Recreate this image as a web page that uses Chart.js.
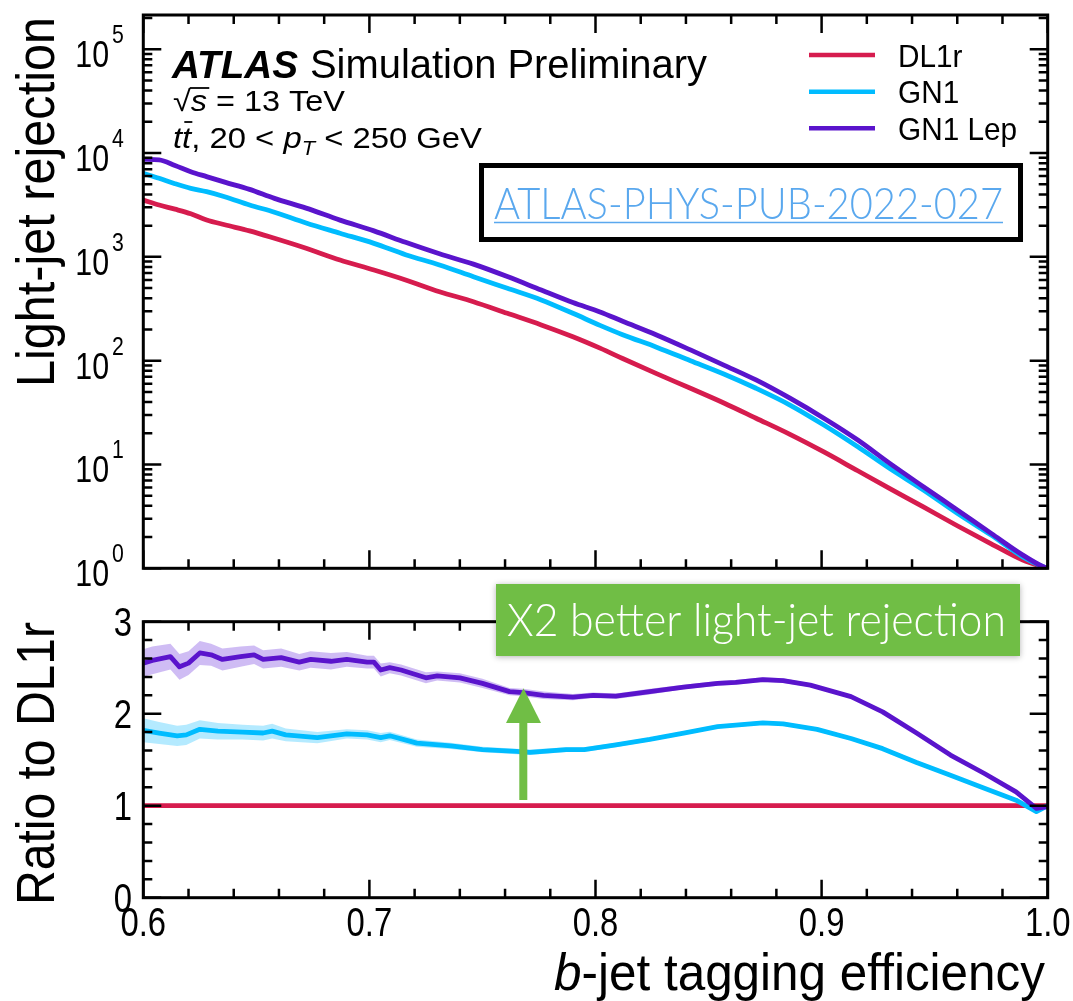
<!DOCTYPE html>
<html>
<head>
<meta charset="utf-8">
<script src="https://cdn.jsdelivr.net/npm/chart.js@4.4.0/dist/chart.umd.min.js"></script>
<style>
  html, body { margin: 0; padding: 0; background: #fff; }
  #wrap { position: relative; width: 1073px; height: 1001px; overflow: hidden; }
  canvas { position: absolute; left: 0; }
  #rejection { top: 0; }
  #ratio { top: 570px; }
</style>
</head>
<body>
<div id="wrap">
  <canvas id="rejection" width="1073" height="600"></canvas>
  <canvas id="ratio" width="1073" height="431"></canvas>
</div>
<script>
// light-jet rejection vs b-jet efficiency
const effTop = [0.600, 0.607, 0.614, 0.621, 0.628, 0.636, 0.647, 0.658, 0.672, 0.687, 0.702, 0.716, 0.731, 0.746, 0.761, 0.776, 0.790, 0.802, 0.812, 0.827, 0.842, 0.857, 0.871, 0.886, 0.901, 0.916, 0.930, 0.945, 0.960, 0.975, 0.989, 0.998, 1.000];
const rejDL1r = [3530, 3160, 2880, 2600, 2270, 2040, 1780, 1510, 1210, 933, 748, 600, 462, 370, 286, 221, 170, 132, 105, 75.0, 54.2, 38.9, 27.9, 19.5, 13.2, 8.7, 5.9, 3.9, 2.57, 1.72, 1.2, 1.03, 1];
const rejGN1 = [6380, 5710, 5070, 4570, 4250, 3800, 3160, 2690, 2120, 1690, 1350, 1050, 836, 644, 498, 385, 286, 219, 178, 135, 100, 74.1, 54.2, 37.4, 24.0, 14.8, 9.18, 5.68, 3.39, 2.09, 1.29, 1.035, 1];
const rejGN1Lep = [8710, 8590, 7590, 6610, 5930, 5250, 4470, 3660, 2950, 2260, 1780, 1380, 1070, 851, 646, 479, 363, 295, 240, 177, 127, 90.2, 65.2, 43.5, 27.9, 17.2, 10.3, 6.11, 3.65, 2.17, 1.34, 1.035, 1];

// ratio to DL1r with statistical uncertainty
const effRatioLep = [0.600, 0.604, 0.612, 0.616, 0.620, 0.625, 0.630, 0.635, 0.643, 0.649, 0.653, 0.661, 0.669, 0.674, 0.683, 0.690, 0.699, 0.702, 0.705, 0.709, 0.714, 0.725, 0.730, 0.740, 0.750, 0.762, 0.768, 0.777, 0.790, 0.799, 0.809, 0.824, 0.839, 0.854, 0.862, 0.874, 0.883, 0.895, 0.913, 0.927, 0.942, 0.957, 0.972, 0.986, 0.995, 1.000];
const ratioLep = [2.55, 2.58, 2.62, 2.51, 2.55, 2.66, 2.64, 2.59, 2.62, 2.64, 2.59, 2.61, 2.56, 2.59, 2.57, 2.59, 2.56, 2.56, 2.475, 2.50, 2.475, 2.39, 2.41, 2.39, 2.33, 2.24, 2.23, 2.20, 2.18, 2.20, 2.19, 2.24, 2.29, 2.33, 2.34, 2.37, 2.36, 2.31, 2.185, 2.02, 1.79, 1.55, 1.35, 1.15, 0.97, 0.99];
const errLep = [0.15, 0.15, 0.14, 0.14, 0.13, 0.13, 0.12, 0.12, 0.11, 0.10, 0.10, 0.10, 0.09, 0.09, 0.09, 0.08, 0.07, 0.07, 0.07, 0.06, 0.06, 0.06, 0.05, 0.05, 0.05, 0.04, 0.04, 0.04, 0.035, 0.03, 0.03, 0.03, 0.025, 0.025, 0.025, 0.025, 0.025, 0.02, 0.02, 0.02, 0.02, 0.02, 0.02, 0.02, 0.02, 0.02];

const effRatioGN1 = [0.600, 0.607, 0.615, 0.619, 0.625, 0.633, 0.644, 0.653, 0.657, 0.663, 0.677, 0.690, 0.699, 0.705, 0.709, 0.721, 0.736, 0.750, 0.765, 0.771, 0.787, 0.795, 0.809, 0.824, 0.839, 0.854, 0.874, 0.883, 0.898, 0.913, 0.927, 0.942, 0.957, 0.972, 0.986, 0.995, 1.000];
const ratioGN1 = [1.82, 1.79, 1.76, 1.77, 1.83, 1.81, 1.80, 1.79, 1.81, 1.77, 1.74, 1.78, 1.77, 1.74, 1.76, 1.68, 1.65, 1.61, 1.59, 1.58, 1.61, 1.61, 1.66, 1.72, 1.79, 1.86, 1.90, 1.89, 1.83, 1.73, 1.62, 1.47, 1.33, 1.19, 1.06, 0.935, 1.0];
const errGN1 = [0.13, 0.12, 0.11, 0.11, 0.10, 0.09, 0.08, 0.08, 0.08, 0.07, 0.06, 0.05, 0.05, 0.05, 0.045, 0.04, 0.035, 0.03, 0.03, 0.03, 0.025, 0.025, 0.025, 0.02, 0.02, 0.02, 0.02, 0.02, 0.02, 0.02, 0.02, 0.02, 0.02, 0.02, 0.02, 0.02, 0.02];

const effRatioDL1r = [0.6, 1.0];
const ratioDL1r = [1, 1];
const errDL1r = [0.02, 0.02];

const seriesNames = ['DL1r', 'GN1', 'GN1 Lep'];
const xTicks = [0.6, 0.7, 0.8, 0.9, 1.0];
const xTickLabels = ['0.6', '0.7', '0.8', '0.9', '1.0'];
const rejDecades = [0, 1, 2, 3, 4, 5];
const ratioTicks = [0, 1, 2, 3];

const lineColors = ['#d61c4e', '#00bcff', '#5a14cc'];
const bandColors = ['rgba(214, 28, 78, 0.3)', 'rgba(40, 195, 255, 0.35)', 'rgba(130, 80, 225, 0.38)'];
const SANS = '"Liberation Sans", Arial, "DejaVu Sans", sans-serif';
const LIGHT = 'Lato, "Open Sans", sans-serif';

// text squeezed to a given width, or scaled horizontally by sx
function fitText(ctx, str, x, y, font, width, align, sx) {
  ctx.font = font;
  const w = ctx.measureText(str).width;
  const k = width ? width / w : (sx || 1);
  ctx.save();
  ctx.translate(x, y);
  ctx.scale(k, 1);
  ctx.textAlign = align || 'left';
  ctx.fillText(str, 0, 0);
  ctx.restore();
}

// a row of differently styled pieces, squeezed to a total width
function richText(ctx, parts, x, y, width) {
  let total = 0;
  parts.forEach(p => { ctx.font = p.font; p.w = ctx.measureText(p.t).width; total += p.w; });
  const sx = width ? width / total : 1;
  ctx.save();
  ctx.translate(x, y);
  ctx.scale(sx, 1);
  ctx.textAlign = 'left';
  let cx = 0;
  parts.forEach(p => {
    ctx.font = p.font;
    ctx.fillText(p.t, cx, p.dy || 0);
    if (p.bar) {
      ctx.lineWidth = 1.8;
      ctx.beginPath();
      ctx.moveTo(cx + p.bar[0], p.bar[2]);
      ctx.lineTo(cx + p.w + p.bar[1], p.bar[2]);
      ctx.stroke();
    }
    cx += p.w;
  });
  ctx.restore();
}

function xMinorValues() {
  const out = [];
  for (let i = 0; i < xTicks.length - 1; i++) {
    for (let k = 1; k < 5; k++) out.push(xTicks[i] + (xTicks[i + 1] - xTicks[i]) * k / 5);
  }
  return out;
}

function drawFrame(chart, yMajor, yMinor) {
  const { ctx, chartArea: a, scales: { x, y } } = chart;
  ctx.save();
  ctx.strokeStyle = '#000';
  ctx.lineWidth = 2.5;
  ctx.beginPath();
  const xt = (v, len) => {
    const px = x.getPixelForValue(v);
    ctx.moveTo(px, a.bottom); ctx.lineTo(px, a.bottom - len);
    ctx.moveTo(px, a.top); ctx.lineTo(px, a.top + len);
  };
  const yt = (v, len) => {
    const py = y.getPixelForValue(v);
    ctx.moveTo(a.left, py); ctx.lineTo(a.left + len, py);
    ctx.moveTo(a.right, py); ctx.lineTo(a.right - len, py);
  };
  xTicks.forEach(v => xt(v, 18));
  xMinorValues().forEach(v => xt(v, 9));
  yMajor.forEach(v => yt(v, 18));
  yMinor.forEach(v => yt(v, 9));
  ctx.stroke();
  ctx.lineWidth = 3;
  ctx.strokeRect(a.left, a.top, a.right - a.left, a.bottom - a.top);
  ctx.restore();
}

const REJ_MAX = 213800;

const rejectionPlugin = {
  id: 'rejectionDecor',
  afterDraw(chart) {
    const { ctx, scales: { y } } = chart;
    const major = rejDecades.map(d => Math.pow(10, d));
    const minor = [];
    rejDecades.forEach(d => {
      for (let k = 2; k <= 9; k++) {
        const v = k * Math.pow(10, d);
        if (v < REJ_MAX) minor.push(v);
      }
    });
    drawFrame(chart, major, minor);

    ctx.save();
    ctx.fillStyle = '#000';
    ctx.strokeStyle = '#000';
    // decade labels
    rejDecades.forEach(d => {
      const py = y.getPixelForValue(Math.pow(10, d));
      fitText(ctx, '10', 109, py + 18, '37px ' + SANS, 0, 'right', 0.82);
      fitText(ctx, String(d), 112, py - 6, '25px ' + SANS, 0, 'left', 0.85);
    });

    // axis title
    ctx.save();
    ctx.translate(54, 17);
    ctx.rotate(-Math.PI / 2);
    fitText(ctx, 'Light-jet rejection', 0, 0, '54px ' + SANS, 370, 'right');
    ctx.restore();

    // ATLAS label
    fitText(ctx, 'ATLAS', 172, 78, 'italic bold 38px ' + SANS, 126, 'left');
    fitText(ctx, 'Simulation Preliminary', 310, 78, '40px ' + SANS, 397, 'left');
    richText(ctx, [
      { t: '\u221A', font: '29px ' + SANS },
      { t: 's', font: 'italic 29px ' + SANS, bar: [-1, 2, -23] },
      { t: ' = 13 TeV', font: '29px ' + SANS }
    ], 173, 111, 172);
    richText(ctx, [
      { t: 't', font: 'italic 30px ' + SANS },
      { t: 't', font: 'italic 30px ' + SANS, bar: [2, 1, -26] },
      { t: ', 20 < ', font: '30px ' + SANS },
      { t: 'p', font: 'italic 30px ' + SANS },
      { t: 'T', font: 'italic 20px ' + SANS, dy: 7 },
      { t: ' < 250 GeV', font: '30px ' + SANS }
    ], 173, 148, 309);

    // legend
    const legendY = [55, 91.7, 128.3];
    seriesNames.forEach((name, i) => {
      ctx.strokeStyle = lineColors[i];
      ctx.lineWidth = 4.5;
      ctx.beginPath();
      ctx.moveTo(809, legendY[i]);
      ctx.lineTo(875, legendY[i]);
      ctx.stroke();
      ctx.fillStyle = '#000';
      fitText(ctx, name, 898, legendY[i] + 11.5, '32px ' + SANS, 0, 'left', 0.93);
    });

    // publication reference box
    ctx.fillStyle = '#fff';
    ctx.fillRect(481, 165, 540, 75);
    ctx.strokeStyle = '#000';
    ctx.lineWidth = 5;
    ctx.strokeRect(481.5, 165.5, 539, 74);
    ctx.fillStyle = '#5aa8ee';
    fitText(ctx, 'ATLAS-PHYS-PUB-2022-027', 494, 219, '300 44px ' + LIGHT, 509, 'left');
    ctx.strokeStyle = '#5aa8ee';
    ctx.lineWidth = 1.5;
    ctx.beginPath();
    ctx.moveTo(494, 222.5);
    ctx.lineTo(1003, 222.5);
    ctx.stroke();
    ctx.restore();
  }
};

const ratioPlugin = {
  id: 'ratioDecor',
  afterDraw(chart) {
    const { ctx, chartArea: a, scales: { x, y } } = chart;
    const minor = [];
    for (let i = 1; i < 15; i++) if (i % 5) minor.push(i / 5);
    drawFrame(chart, ratioTicks, minor);

    ctx.save();
    ctx.fillStyle = '#000';
    ratioTicks.forEach(v => {
      fitText(ctx, String(v), 132, y.getPixelForValue(v) + 14, '40px ' + SANS, 0, 'right', 0.82);
    });
    xTicks.forEach((v, i) => {
      fitText(ctx, xTickLabels[i], x.getPixelForValue(v), a.bottom + 38.5, '40px ' + SANS, 0, 'center', 0.82);
    });

    ctx.save();
    ctx.translate(54, 52);
    ctx.rotate(-Math.PI / 2);
    fitText(ctx, 'Ratio to DL1r', 0, 0, '54px ' + SANS, 283, 'right');
    ctx.restore();

    richText(ctx, [
      { t: 'b', font: 'italic 52px ' + SANS },
      { t: '-jet tagging efficiency', font: '52px ' + SANS }
    ], 554, 420, 491);

    // callout
    const green = '#70be45';
    ctx.save();
    ctx.shadowColor = 'rgba(0, 0, 0, 0.3)';
    ctx.shadowBlur = 6;
    ctx.shadowOffsetY = 1;
    ctx.fillStyle = green;
    ctx.fillRect(496, 14, 524, 72);
    ctx.restore();
    ctx.fillStyle = '#fff';
    fitText(ctx, 'X2 better light-jet rejection', 507, 66, '300 46px ' + LIGHT, 499, 'left');

    ctx.fillStyle = green;
    ctx.fillRect(519.3, 152, 8, 78);
    ctx.beginPath();
    ctx.moveTo(506, 153);
    ctx.lineTo(541, 153);
    ctx.lineTo(523.5, 118.3);
    ctx.closePath();
    ctx.fill();
    ctx.restore();
  }
};

const topSets = [rejDL1r, rejGN1, rejGN1Lep].map((vals, i) => ({
  label: seriesNames[i],
  data: effTop.map((e, j) => ({ x: e, y: vals[j] })),
  borderColor: lineColors[i],
  borderWidth: 4.8,
  pointRadius: 0,
  fill: false,
  cubicInterpolationMode: 'monotone',
  order: 3 - i
}));

function ratioSets(eff, ratio, err, i) {
  return [
    {
      data: eff.map((e, j) => ({ x: e, y: ratio[j] + err[j] })),
      borderColor: 'rgba(0,0,0,0)', borderWidth: 0, pointRadius: 0,
      fill: '+1', backgroundColor: bandColors[i], order: 10
    },
    {
      data: eff.map((e, j) => ({ x: e, y: ratio[j] - err[j] })),
      borderColor: 'rgba(0,0,0,0)', borderWidth: 0, pointRadius: 0,
      fill: false, order: 10
    },
    {
      label: seriesNames[i],
      data: eff.map((e, j) => ({ x: e, y: ratio[j] })),
      borderColor: lineColors[i], borderWidth: 4.8, pointRadius: 0,
      fill: false, order: 3 - i
    }
  ];
}

const common = {
  responsive: false,
  animation: false,
  plugins: { legend: { display: false }, tooltip: { enabled: false } },
  elements: { line: { borderJoinStyle: 'round', borderCapStyle: 'round' } }
};

new Chart(document.getElementById('rejection'), {
  type: 'line',
  data: { datasets: topSets },
  options: {
    ...common,
    layout: { padding: { left: 143.3, right: 25.3, top: 15, bottom: 31.7 } },
    scales: {
      x: { type: 'linear', min: 0.6, max: 1.0, display: false },
      y: { type: 'logarithmic', min: 1, max: REJ_MAX, bounds: 'data', display: false }
    }
  },
  plugins: [rejectionPlugin]
});

new Chart(document.getElementById('ratio'), {
  type: 'line',
  data: {
    datasets: [
      ...ratioSets(effRatioDL1r, ratioDL1r, errDL1r, 0),
      ...ratioSets(effRatioGN1, ratioGN1, errGN1, 1),
      ...ratioSets(effRatioLep, ratioLep, errLep, 2)
    ]
  },
  options: {
    ...common,
    layout: { padding: { left: 143.3, right: 25.3, top: 51.7, bottom: 103.3 } },
    scales: {
      x: { type: 'linear', min: 0.6, max: 1.0, display: false },
      y: { type: 'linear', min: 0, max: 3, display: false }
    }
  },
  plugins: [ratioPlugin]
});
</script>
</body>
</html>
